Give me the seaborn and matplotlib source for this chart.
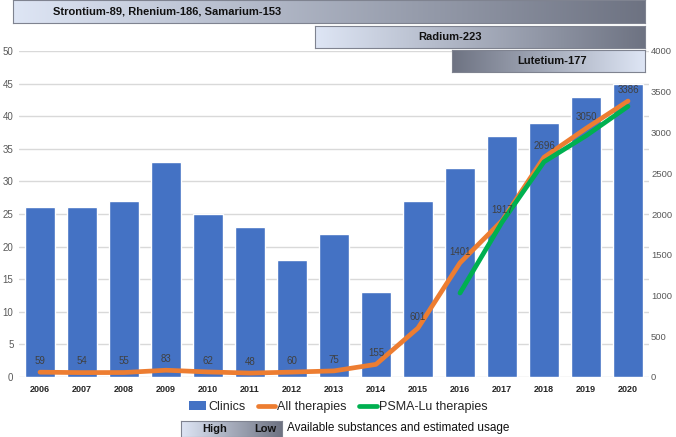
import matplotlib
matplotlib.use("Agg")
import matplotlib.pyplot as plt
import numpy as np
import pandas as pd
import seaborn as sns
from matplotlib.lines import Line2D
from matplotlib.patches import Patch

# -----------------------------
# Data
# -----------------------------
years = [str(y) for y in range(2006, 2021)]
clinics = [26, 26, 27, 33, 25, 23, 18, 22, 13, 27, 32, 37, 39, 43, 45]
all_therapies = [59, 54, 55, 83, 62, 48, 60, 75, 155, 601, 1401, 1917, 2696, 3050, 3386]
psma_years = ["2016", "2017", "2018", "2019", "2020"]
psma_lu = [1030, 1900, 2640, 2960, 3320]

substances = ["Strontium-89, Rhenium-186, Samarium-153", "Radium-223", "Lutetium-177"]

BLUE = "#4472C4"
ORANGE = "#ED7D31"
GREEN = "#00B050"
LIGHT = np.array([0.87, 0.90, 0.96])
DARK = np.array([0.43, 0.45, 0.51])

sns.set_style("white")
plt.rcParams["font.family"] = ["Liberation Sans", "DejaVu Sans"]

W, H = 676, 437
fig = plt.figure(figsize=(W / 100, H / 100), dpi=100)


def px_axes(x0, y0, x1, y1):
    # pixel box (top-left origin) -> figure axes
    return fig.add_axes([x0 / W, 1 - y1 / H, (x1 - x0) / W, (y1 - y0) / H])


# -----------------------------
# Main chart
# -----------------------------
ax = px_axes(19, 51, 649, 377)
df = pd.DataFrame({"year": years, "clinics": clinics, "all": all_therapies})
sns.barplot(data=df, x="year", y="clinics", color=BLUE, saturation=1, width=0.71, ax=ax, zorder=2)
ax.set_ylim(0, 50)
ax.set_xlim(-0.5, 14.5)
ax.set_yticks(range(0, 51, 5))
ax.yaxis.grid(True, color="#d9d9d9", linewidth=1, zorder=0)
ax.set_axisbelow(True)
ax.set_xlabel("")
ax.set_ylabel("")
ax.tick_params(axis="y", labelsize=7, colors="#595959", length=0, pad=4)
ax.tick_params(axis="x", labelsize=6.5, length=0, pad=6)
for lab in ax.get_xticklabels():
    lab.set_fontweight("bold")
for s in ax.spines.values():
    s.set_visible(False)

ax2 = ax.twinx()
x_all = np.arange(len(years))
x_psma = np.array([years.index(y) for y in psma_years])
sns.lineplot(x=x_all, y=all_therapies, color=ORANGE, linewidth=3.4, ax=ax2, zorder=3)
sns.lineplot(x=x_psma, y=psma_lu, color=GREEN, linewidth=3.4, ax=ax2, zorder=4)
ax2.set_ylim(0, 4000)
ax2.set_xlim(-0.5, 14.5)
ax2.set_yticks(range(0, 4001, 500))
ax2.tick_params(axis="y", labelsize=6.8, colors="#595959", length=0, pad=1.5)
ax2.grid(False)
for s in ax2.spines.values():
    s.set_visible(False)

for xi, v in zip(x_all, all_therapies):
    ax2.annotate(str(v), (xi, v), xytext=(0, 8), textcoords="offset points",
                 ha="center", va="center", fontsize=7, color="#404040", zorder=5)

# -----------------------------
# Gradient substance bars
# -----------------------------
def gradient_box(x0, y0, x1, y1, reverse=False):
    bax = px_axes(x0, y0, x1, y1)
    t = np.linspace(0, 1, 256)
    if reverse:
        t = t[::-1]
    img = LIGHT[None, :] * (1 - t[:, None]) + DARK[None, :] * t[:, None]
    bax.imshow(img[None, :, :], aspect="auto", extent=(0, 1, 0, 1))
    bax.set_xlim(0, 1)
    bax.set_ylim(0, 1)
    bax.set_xticks([])
    bax.set_yticks([])
    for s in bax.spines.values():
        s.set_edgecolor("#7f8390")
        s.set_linewidth(0.8)
    return bax


b1 = gradient_box(13, 0, 645, 23)
b1.text((53 - 13) / (645 - 13), 0.5, substances[0], ha="left", va="center",
        fontsize=8, fontweight="bold", color="#111111")
b2 = gradient_box(315, 26, 645, 48)
b2.text(0.41, 0.5, substances[1], ha="center", va="center",
        fontsize=8, fontweight="bold", color="#111111")
b3 = gradient_box(452, 50, 645, 72, reverse=True)
b3.text(0.52, 0.5, substances[2], ha="center", va="center",
        fontsize=8, fontweight="bold", color="#111111")

# -----------------------------
# Legend
# -----------------------------
handles = [
    Patch(facecolor=BLUE, edgecolor="none"),
    Line2D([0], [0], color=ORANGE, linewidth=3.4),
    Line2D([0], [0], color=GREEN, linewidth=3.4),
]
fig.legend(handles, ["Clinics", "All therapies", "PSMA-Lu therapies"],
           loc="center", bbox_to_anchor=(338 / W, 1 - 407 / H), ncol=3, frameon=False,
           fontsize=9, handlelength=1.4, handletextpad=0.15, columnspacing=1.0)

kb = gradient_box(181, 421, 282, 437)
kb.text(0.33, 0.5, "High", ha="center", va="center", fontsize=8, fontweight="bold", color="#111111")
kb.text(0.83, 0.5, "Low", ha="center", va="center", fontsize=8, fontweight="bold", color="#111111")
fig.text(287 / W, 1 - 428 / H, "Available substances and estimated usage",
         ha="left", va="center", fontsize=8.5, color="#111111")

fig.savefig("out.png", dpi=100)
